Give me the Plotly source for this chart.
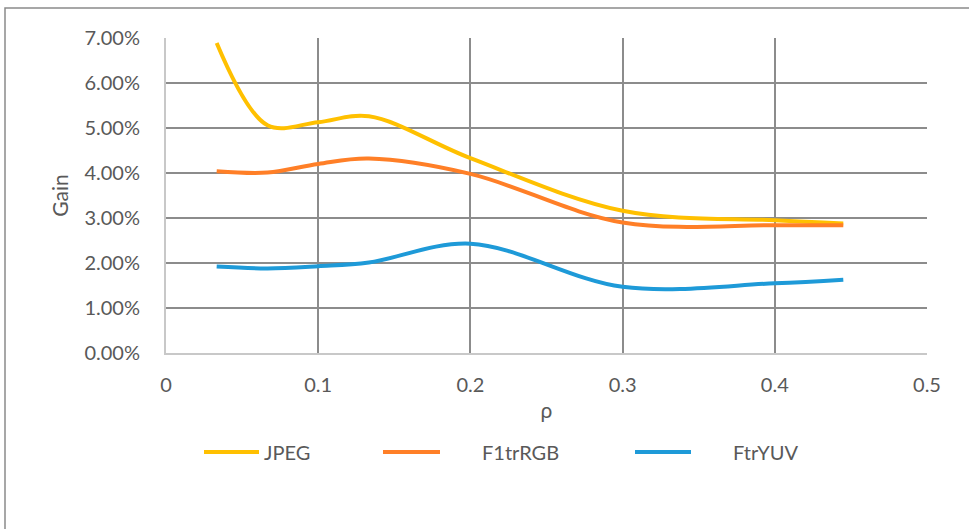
import plotly.graph_objects as go

# Compression gain versus rho for three coding schemes
rho = [0.0333, 0.0667, 0.1, 0.1333, 0.2, 0.3, 0.4, 0.445]
gain_jpeg = [6.89, 5.06, 5.13, 5.26, 4.33, 3.16, 2.95, 2.88]
gain_f1trrgb = [4.04, 4.01, 4.20, 4.32, 3.98, 2.90, 2.84, 2.84]
gain_ftryuv = [1.92, 1.88, 1.93, 2.01, 2.43, 1.47, 1.55, 1.63]

series_names = ["JPEG", "F1trRGB", "FtrYUV"]
series_values = [gain_jpeg, gain_f1trrgb, gain_ftryuv]
series_colors = ["#FFC000", "#FF7F27", "#1E9AD8"]

y_ticks = [0, 0.01, 0.02, 0.03, 0.04, 0.05, 0.06, 0.07]
x_ticks = [0, 0.1, 0.2, 0.3, 0.4, 0.5]

W, H = 969, 529
L, R, T, B = 166, 42, 38, 176
pw, ph = W - L - R, H - T - B

FONT = "Lato, Open Sans, sans-serif"
TEXT = "#595959"

fig = go.Figure()
for name, vals, col in zip(series_names, series_values, series_colors):
    fig.add_trace(go.Scatter(
        x=rho, y=[v / 100 for v in vals], name=name, mode="lines",
        line=dict(color=col, width=4, shape="spline", smoothing=1.0),
        showlegend=False,
    ))

# pixel -> paper helpers
def px(x):
    return (x - L) / pw

def py(y):
    return (H - B - y) / ph

shapes = []
annotations = []
# outer chart frame
shapes.append(dict(type="rect", xref="paper", yref="paper",
                   x0=px(5), x1=px(990), y0=py(8), y1=py(560),
                   line=dict(color="#8a8a8a", width=1.5), fillcolor="rgba(0,0,0,0)", layer="below"))

# legend row
legend_pos = [(204, 259, 262), (383, 440, 480), (635, 691, 731)]
for (x0, x1, tx), name, col in zip(legend_pos, series_names, series_colors):
    shapes.append(dict(type="line", xref="paper", yref="paper",
                       x0=px(x0), x1=px(x1), y0=py(452), y1=py(452),
                       line=dict(color=col, width=4)))
    annotations.append(dict(xref="paper", yref="paper", x=px(tx), y=py(452),
                            xanchor="left", yanchor="middle", showarrow=False,
                            text=name, font=dict(family=FONT, size=20, color=TEXT)))

fig.update_layout(
    width=W, height=H,
    margin=dict(l=L, r=R, t=T, b=B),
    paper_bgcolor="white", plot_bgcolor="white",
    shapes=shapes, annotations=annotations,
    font=dict(family=FONT, color=TEXT),
)
fig.update_xaxes(
    range=[0, 0.5], tickvals=x_ticks, ticktext=[f"{v:g}" for v in x_ticks],
    showgrid=True, gridcolor="#8c8c8c", gridwidth=1.5,
    showline=True, linecolor="#c8c8c8", linewidth=2, mirror=False,
    zeroline=False, ticks="", ticklabelstandoff=13,
    tickfont=dict(family=FONT, size=20, color=TEXT),
    title=dict(text="ρ", font=dict(family=FONT, size=21, color=TEXT), standoff=8),
)
fig.update_yaxes(
    range=[0, 0.07], tickvals=y_ticks, tickformat=".2%",
    showgrid=True, gridcolor="#8c8c8c", gridwidth=1.5,
    showline=True, linecolor="#c8c8c8", linewidth=2,
    zeroline=False, ticks="", ticklabelstandoff=20,
    tickfont=dict(family=FONT, size=20, color=TEXT),
    title=dict(text="Gain", font=dict(family=FONT, size=21, color=TEXT), standoff=10),
)

fig.write_html("out.html")
